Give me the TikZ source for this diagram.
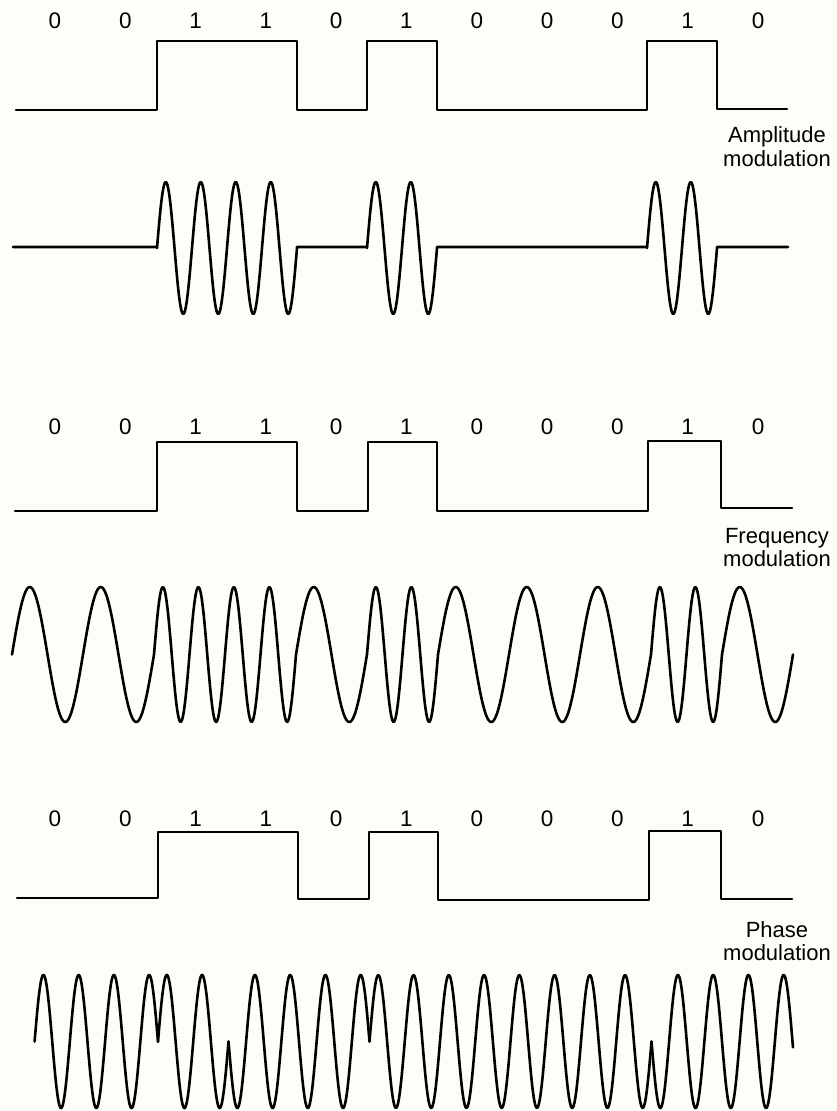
\documentclass[tikz,border=0pt]{standalone}
\usepackage{fontspec}
\setmainfont{Liberation Sans}
\definecolor{bg}{RGB}{254,254,248}
\tikzset{
  sig/.style={line width=2.6pt, line join=round, line cap=round, black},
  bit/.style={font=\fontsize{22.5}{24}\selectfont, anchor=base, inner sep=0pt},
  lab/.style={font=\fontsize{22}{24}\selectfont, anchor=base, inner sep=0pt},
}
\begin{document}
\begin{tikzpicture}[x=1pt,y=-1pt]
\fill[bg] (0,0) rectangle (837,1111);
\useasboundingbox (0,0) rectangle (837,1111);

% bit labels
\foreach \b [count=\i from 0] in {0,0,1,1,0,1,0,0,0,1,0} {
  \node[bit] (amb\i) at ({55+70.3*\i},28.5) {\b};
  \node[bit] (fmb\i) at ({55+70.3*\i},434) {\b};
  \node[bit] (pmb\i) at ({55+70.3*\i},826) {\b};
}

% square waves
\draw[sig] (16,110) -- (157,110) -- (157,41) -- (297,41) -- (297,110) -- (367,110) -- (367,41) -- (437,41) -- (437,110) -- (647,110) -- (647,41) -- (717,41) -- (717,109) -- (787,109);
\draw[sig] (15,511) -- (157,511) -- (157,442) -- (297,442) -- (297,511) -- (368,511) -- (368,442) -- (437,442) -- (437,511) -- (648,511) -- (648,441) -- (721,441) -- (721,508) -- (792,508);
\draw[sig] (17,898) -- (158,898) -- (158,832) -- (298,832) -- (298,899) -- (369,899) -- (369,832) -- (438,832) -- (438,900) -- (649,900) -- (649,831) -- (721,831) -- (721,899) -- (792,899);

% amplitude modulation
\draw[sig] (13,247) -- (157,247)
  -- plot[domain=157:297, samples=161] ({\x},{248-66*sin((\x-157)/35*360)})
  -- (297,247) -- (367,247)
  -- plot[domain=367:437, samples=81] ({\x},{248-66*sin((\x-367)/35*360)})
  -- (437,247) -- (647,247)
  -- plot[domain=647:717, samples=81] ({\x},{248-66*sin((\x-647)/35*360)})
  -- (717,247) -- (788,247);

% frequency modulation
\foreach \b [count=\i from 0] in {0,0,1,1,0,1,0,0,0,1,0} {
  \pgfmathsetmacro\xs{12+71*\i}
  \pgfmathsetmacro\xe{\xs+71}
  \pgfmathsetmacro\nc{\b+1}
  \draw[sig] plot[domain=\xs:\xe, samples=71] ({\x},{654.5-67.5*sin((\x-\xs)/71*360*\nc)});
}

% phase modulation
\foreach \a/\e/\s in {34.6/158/1, 158/228.5/1, 228.5/369.5/-1, 369.5/651.5/1, 651.5/793/-1} {
  \draw[sig] plot[domain=\a:\e, samples=301] ({\x},{1041.5-\s*66.5*sin((\x-\a)/35.25*360)});
}

% labels
\node[lab] (amL1) at (777,142) {Amplitude};
\node[lab] (amL2) at (777,166) {modulation};
\node[lab] (fmL1) at (777,543) {Frequency};
\node[lab] (fmL2) at (777,566) {modulation};
\node[lab] (pmL1) at (777,937) {Phase};
\node[lab] (pmL2) at (777,960) {modulation};
\end{tikzpicture}
\end{document}
